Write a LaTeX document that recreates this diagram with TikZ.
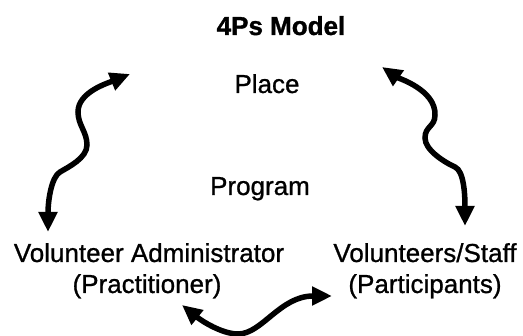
\documentclass[tikz,border=0pt]{standalone}
\usepackage{fontspec}
\setmainfont{Liberation Sans}
\newfontfamily\bodyfont[FakeBold=0.9]{Liberation Sans}
\newfontfamily\headfont[FakeBold=1.2]{Liberation Sans Bold}
\usetikzlibrary{arrows.meta}

\tikzset{
  label/.style={font=\bodyfont\fontsize{26}{30}\selectfont, inner sep=0pt, anchor=base},
  heading/.style={font=\headfont\fontsize{26}{30}\selectfont, inner sep=0pt, anchor=base},
  wave/.style={line width=5.5pt, line cap=round,
    {Triangle[length=20pt,width=18pt]}-{Triangle[length=20pt,width=18pt]}}
}

\begin{document}
\begin{tikzpicture}[x=1pt, y=-1pt]
  \useasboundingbox (0,0) rectangle (523,336);

  % labels
  \node[heading] (title)    at (281,35)  {4Ps Model};
  \node[label]   (place)    at (267,93)  {Place};
  \node[label]   (program)  at (260,195) {Program};
  \node[label]   (admin)    at (149,262) {Volunteer Administrator};
  \node[label]   (adminsub) at (147,293) {(Practitioner)};
  \node[label]   (staff)    at (425,262) {Volunteers/Staff};
  \node[label]   (staffsub) at (425,293) {(Participants)};

  % arrow ends
  \coordinate (lefttop) at (130,74);
  \coordinate (leftbot) at (48,232);
  \coordinate (righttop) at (382,67);
  \coordinate (rightbot) at (465,226);
  \coordinate (botleft) at (182,305);
  \coordinate (botright) at (332,296);

  % Place <-> Volunteer Administrator
  \draw[wave] (lefttop)
    .. controls (108,83) and (78,92) .. (78,112)
    .. controls (78,125) and (87,132) .. (87,145)
    .. controls (87,158) and (68.5,167) .. (60,172)
    .. controls (51.5,177) and (48,200) .. (leftbot);

  % Place <-> Volunteers/Staff
  \draw[wave] (righttop)
    .. controls (398,78) and (436,90) .. (435,115)
    .. controls (435,127) and (425,126) .. (425,138)
    .. controls (425,150) and (444,162) .. (455,167)
    .. controls (464,171) and (465,195) .. (rightbot);

  % Volunteer Administrator <-> Volunteers/Staff
  \draw[wave] (botleft)
    .. controls (201.5,320.8) and (222,334) .. (238,334)
    .. controls (262,334) and (280,296) .. (botright);
\end{tikzpicture}
\end{document}
